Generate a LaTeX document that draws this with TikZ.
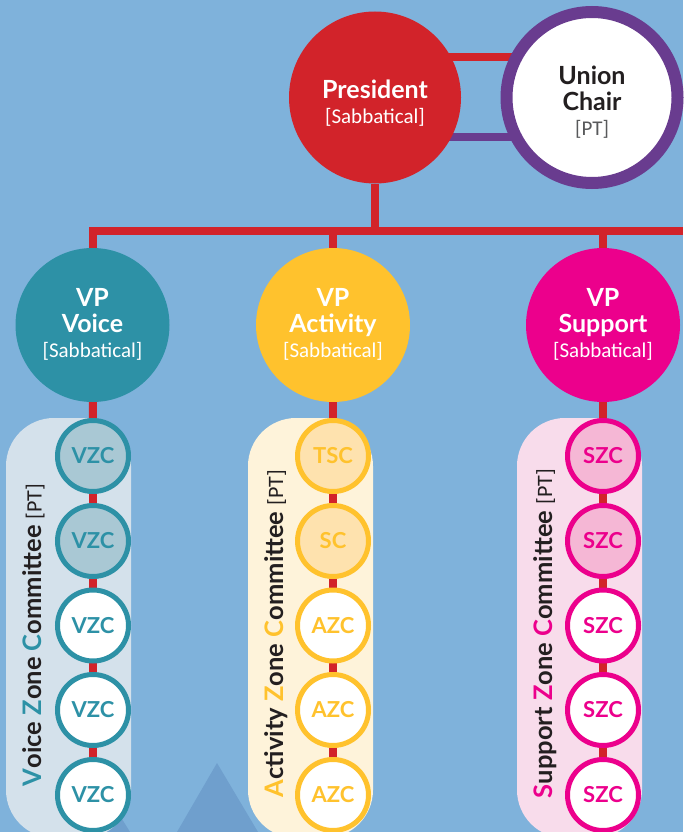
\documentclass[tikz,border=0pt]{standalone}
\usepackage{fontspec}
\setmainfont{Lato}
\newfontfamily\thinf{Carlito}
\definecolor{bgblue}{HTML}{7FB2DB}
\definecolor{mount}{HTML}{6F9FCD}
\definecolor{cred}{HTML}{D2232A}
\definecolor{cpurple}{HTML}{693C8F}
\definecolor{cteal}{HTML}{2D91A6}
\definecolor{cyellow}{HTML}{FFC22D}
\definecolor{cpink}{HTML}{EC008C}
\definecolor{pteal}{HTML}{D9E4EC}
\definecolor{pyellow}{HTML}{FEF3DA}
\definecolor{ppink}{HTML}{F8DCEB}
\definecolor{tteal}{HTML}{A9C8D4}
\definecolor{tyellow}{HTML}{FEE2AE}
\definecolor{tpink}{HTML}{F5B7D5}
\definecolor{ink}{HTML}{231F20}
\definecolor{grayt}{HTML}{58595B}
\pgfdeclarelayer{back}
\pgfdeclarelayer{conn}
\pgfsetlayers{back,conn,main}
\newcommand{\nm}[1]{{\bfseries #1}}
\newcommand{\sbt}[1]{{\fontsize{21}{25.5}\selectfont\thinf #1}}
\newcommand{\zt}[1]{\raisebox{-1pt}{#1}}
\tikzset{
  x=1pt,y=-1pt,
  bigc/.style={circle,inner sep=0pt,outer sep=0pt,minimum size=154pt},
  captxt/.style={inner sep=0pt,outer sep=0pt,align=center,text=white,font=\fontsize{25}{25.5}\selectfont},
  zc/.style={circle,inner sep=0pt,outer sep=0pt,minimum size=71pt,line width=5pt,
    font=\fontsize{22}{24}\selectfont\bfseries},
  zteal/.style={zc,draw=cteal,text=cteal},
  zyellow/.style={zc,draw=cyellow,text=cyellow},
  zpink/.style={zc,draw=cpink,text=cpink},
  redln/.style={draw=cred,line width=8pt},
  purln/.style={draw=cpurple,line width=8pt},
  pill/.style={rounded corners=48pt},
  rotlab/.style={rotate=90,anchor=base west,inner sep=0pt,outer sep=0pt,text=ink,
    font=\fontsize{25.5}{26}\selectfont\bfseries},
}
\newcommand{\ptm}{{\fontsize{22}{26}\selectfont\mdseries\thinf [PT]}}
\begin{document}
\begin{tikzpicture}
\useasboundingbox (0,0) rectangle (683,832);
\begin{pgfonlayer}{back}
  \fill[bgblue] (0,0) rectangle (683,832);
  \fill[mount] (217,763) -- (258,832) -- (177,832) -- cycle;
  \fill[mount] (109,798) -- (130,832) -- (88,832) -- cycle;
  \fill[pteal,opacity=.95,pill] (6,418) rectangle (131,838);
  \fill[pyellow,pill] (248,418) rectangle (373,838);
  \fill[ppink,pill] (517,418) rectangle (642,838);
\end{pgfonlayer}

\node[bigc,minimum size=172pt,fill=cred] (pres) at (375,97.5) {};
\node[captxt] (prest) at (375,103) {\nm{President}\\\sbt{[Sabbatical]}};
\node[bigc,minimum size=171pt,fill=white,draw=cpurple,line width=12pt] (chair) at (592,97.5) {};
\node[captxt,text=ink] (chairt) at (592,102.5) {\nm{Union}\\\nm{Chair}\\{\color{grayt}\sbt{[PT]}}};

\node[bigc,fill=cteal] (vpv) at (92.5,325) {};
\node[bigc,fill=cyellow] (vpa) at (333,325) {};
\node[bigc,fill=cpink] (vps) at (603,325) {};
\node[captxt] (vpvt) at (92.5,324.5) {\nm{VP}\\\nm{Voice}\\\sbt{[Sabbatical]}};
\node[captxt] (vpat) at (333,324.5) {\nm{VP}\\\nm{Activity}\\\sbt{[Sabbatical]}};
\node[captxt] (vpst) at (603,324.5) {\nm{VP}\\\nm{Support}\\\sbt{[Sabbatical]}};

\coordinate (busend) at (683,230.5);

\node[zteal,fill=tteal] (v1) at (93,456) {\zt{VZC}};
\node[zteal,fill=tteal] (v2) at (93,541) {\zt{VZC}};
\node[zteal,fill=white] (v3) at (93,625.5) {\zt{VZC}};
\node[zteal,fill=white] (v4) at (93,710) {\zt{VZC}};
\node[zteal,fill=white] (v5) at (93,795) {\zt{VZC}};

\node[zyellow,fill=tyellow] (a1) at (333,456) {\zt{TSC}};
\node[zyellow,fill=tyellow] (a2) at (333,541) {\zt{SC}};
\node[zyellow,fill=white] (a3) at (333,625.5) {\zt{AZC}};
\node[zyellow,fill=white] (a4) at (333,710) {\zt{AZC}};
\node[zyellow,fill=white] (a5) at (333,795) {\zt{AZC}};

\node[zpink,fill=tpink] (s1) at (603,456) {\zt{SZC}};
\node[zpink,fill=tpink] (s2) at (603,541) {\zt{SZC}};
\node[zpink,fill=white] (s3) at (603,625.5) {\zt{SZC}};
\node[zpink,fill=white] (s4) at (603,710) {\zt{SZC}};
\node[zpink,fill=white] (s5) at (603,795) {\zt{SZC}};

\node[rotlab] (lv) at (41.5,786) {{\color{cteal}V}oice {\color{cteal}Z}one {\color{cteal}C}ommittee \ptm};
\node[rotlab] (la) at (283,797) {{\color{cyellow}A}ctivity {\color{cyellow}Z}one {\color{cyellow}C}ommittee \ptm};
\node[rotlab] (ls) at (552,798) {{\color{cpink}S}upport {\color{cpink}Z}one {\color{cpink}C}ommittee \ptm};

\begin{pgfonlayer}{conn}
  \draw[redln] (pres.center |- 0,57) -- (chair.center |- 0,57);
  \draw[purln] (pres.center |- 0,137) -- (chair.center |- 0,137);
  \draw[redln] (pres) -- (pres |- busend);
  \draw[redln] (vpv) |- (busend);
  \draw[redln] (vpa) -- (vpa |- busend);
  \draw[redln] (vps) -- (vps |- busend);
  \foreach \t in {v,a,s}{
    \draw[redln] (vp\t) -- (\t1);
    \draw[redln] (\t1) -- (\t2);
    \draw[redln] (\t2) -- (\t3);
    \draw[redln] (\t3) -- (\t4);
    \draw[redln] (\t4) -- (\t5);
  }
\end{pgfonlayer}
\end{tikzpicture}
\end{document}
